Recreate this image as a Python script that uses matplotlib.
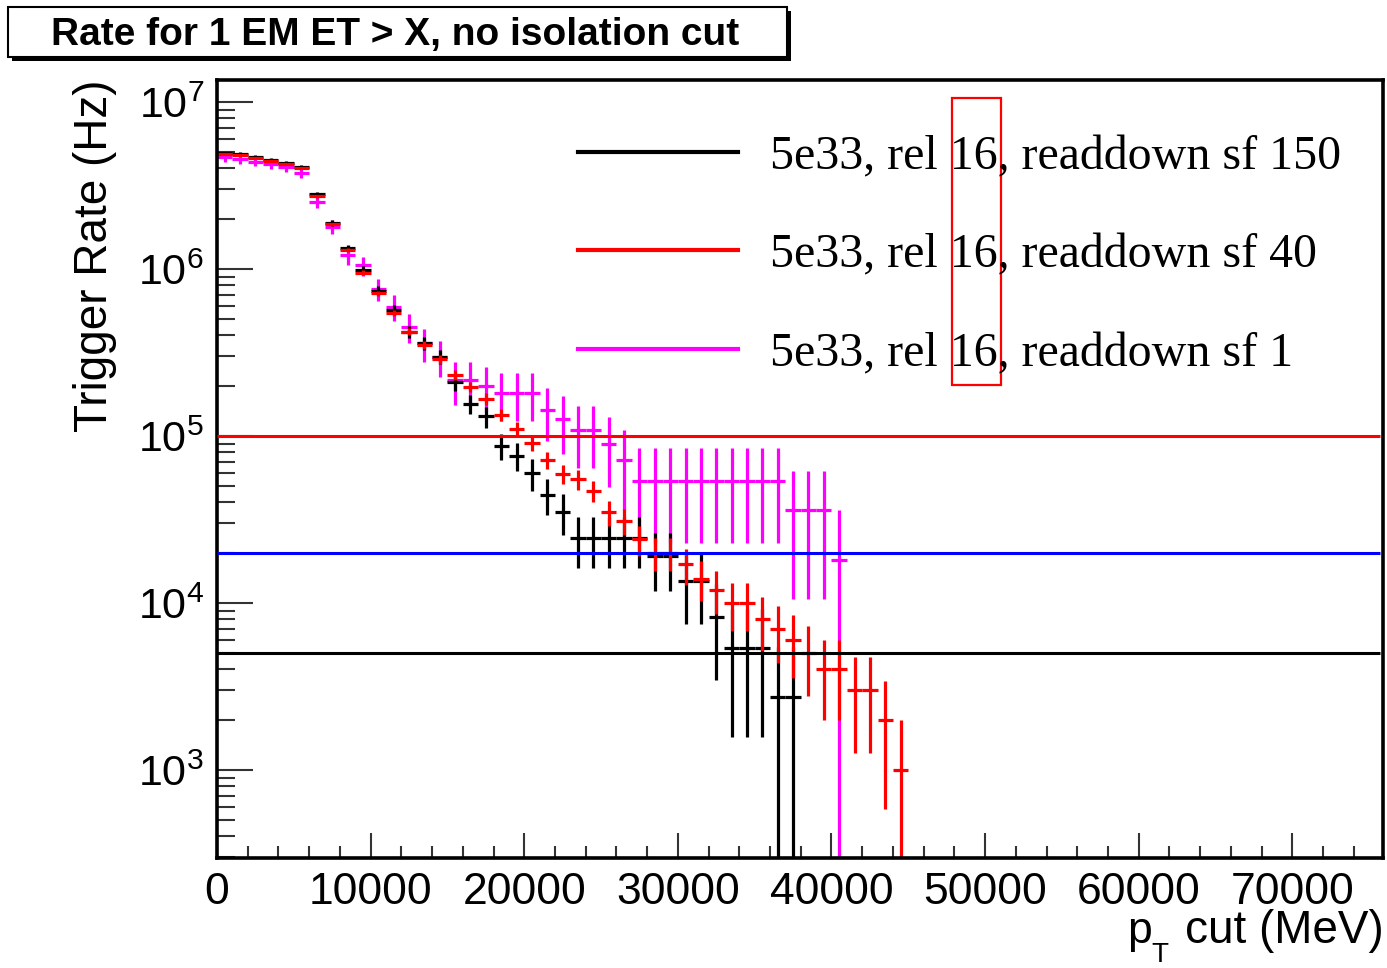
import numpy as np
import matplotlib
matplotlib.use("Agg")
import matplotlib.pyplot as plt
import matplotlib.transforms as mtransforms
from matplotlib.ticker import MultipleLocator, LogLocator, NullFormatter, FuncFormatter
from matplotlib.patches import Rectangle
from matplotlib.lines import Line2D

# ---------------- data ----------------
bin_width = 1000.0  # MeV
black_rate = [4.93e6, 4.89e6, 4.70e6, 4.50e6, 4.30e6, 4.06e6, 2.80e6, 1.89e6, 1.34e6, 9.87e5,
              7.41e5, 5.68e5, 4.22e5, 3.59e5, 2.98e5, 2.11e5, 1.56e5, 1.31e5, 8.7e4, 7.6e4,
              5.98e4, 4.44e4, 3.52e4, 2.44e4, 2.44e4, 2.44e4, 2.44e4, 2.44e4, 1.9e4, 1.9e4,
              1.36e4, 1.36e4, 8.2e3, 5.4e3, 5.4e3, 5.4e3, 2.72e3, 2.72e3]
red_rate = [4.89e6, 4.82e6, 4.64e6, 4.43e6, 4.24e6, 4.01e6, 2.73e6, 1.85e6, 1.30e6, 9.5e5,
            7.15e5, 5.43e5, 4.22e5, 3.51e5, 2.88e5, 2.32e5, 1.97e5, 1.67e5, 1.34e5, 1.10e5,
            9.1e4, 7.2e4, 5.9e4, 5.5e4, 4.7e4, 3.5e4, 3.1e4, 2.4e4, 2.0e4, 2.0e4,
            1.7e4, 1.4e4, 1.2e4, 1.0e4, 1.0e4, 8.0e3, 7.0e3, 6.0e3, 5.0e3, 4.0e3,
            4.0e3, 3.0e3, 3.0e3, 2.0e3, 1.0e3]
magenta_rate = [4.67e6, 4.54e6, 4.39e6, 4.24e6, 4.06e6, 3.78e6, 2.53e6, 1.79e6, 1.21e6, 1.05e6,
                7.56e5, 5.94e5, 4.48e5, 3.59e5, 2.98e5, 2.16e5, 2.16e5, 1.98e5, 1.8e5, 1.8e5,
                1.8e5, 1.44e5, 1.26e5, 1.08e5, 1.08e5, 9.0e4, 7.2e4, 5.4e4, 5.4e4, 5.4e4,
                5.4e4, 5.4e4, 5.4e4, 5.4e4, 5.4e4, 5.4e4, 5.4e4, 3.6e4, 3.6e4, 3.6e4,
                1.8e4]
# rate carried by one event in each sample (sets the Poisson error bars)
black_event_weight = 2.72e3
red_event_weight = 1.0e3
magenta_event_weight = 1.8e4

series_labels = ["5e33, rel 16, readdown sf 150",
                 "5e33, rel 16, readdown sf 40",
                 "5e33, rel 16, readdown sf 1"]
series_colors = ["black", "red", "magenta"]

threshold_rates = [1e5, 2e4, 5e3]
threshold_colors = ["red", "blue", "black"]

title_text = "Rate for 1 EM ET > X, no isolation cut"
ylabel_text = "Trigger Rate (Hz)"
x_ticks = [0, 10000, 20000, 30000, 40000, 50000, 60000, 70000]
y_exponents = [3, 4, 5, 6, 7]

# ---------------- figure ----------------
W, H = 1387, 968
plt.rcParams["font.family"] = ["Liberation Sans", "DejaVu Sans"]
fig = plt.figure(figsize=(W / 100, H / 100), dpi=100)
fig.patch.set_facecolor("white")


def fx(px):
    return px / W


def fy(py):
    return 1 - py / H


ax = fig.add_axes([fx(217), fy(858), fx(1383) - fx(217), fy(80) - fy(858)])
ax.set_yscale("log", nonpositive="clip")
ax.set_xlim(0, 75900)
ax.set_ylim(297, 1.354e7)

series = [(magenta_rate, magenta_event_weight, "magenta"),
          (black_rate, black_event_weight, "black"),
          (red_rate, red_event_weight, "red")]
for rates, w, col in series:
    r = np.array(rates)
    x = (np.arange(len(r)) + 0.5) * bin_width
    err = np.sqrt(r * w)
    lower = np.minimum(err, r * (1 - 1e-12))
    ax.errorbar(x, r, xerr=bin_width / 2, yerr=[lower, err], fmt="none",
                ecolor=col, elinewidth=2.3, capsize=0, zorder=2)

ax.hlines(threshold_rates, 0, 75700, colors=threshold_colors, linewidth=2.2, zorder=3)

# axes styling (ROOT look)
for sp in ax.spines.values():
    sp.set_linewidth(2.6)
ax.xaxis.set_major_locator(MultipleLocator(10000))
ax.xaxis.set_minor_locator(MultipleLocator(2000))
ax.set_xticks(x_ticks)
ax.xaxis.set_major_formatter(FuncFormatter(lambda v, p: "%d" % v))
ax.yaxis.set_major_locator(LogLocator(base=10))
ax.yaxis.set_minor_locator(LogLocator(base=10, subs=np.arange(2, 10)))
ax.yaxis.set_major_formatter(NullFormatter())
ax.yaxis.set_minor_formatter(NullFormatter())

ax.tick_params(axis="x", which="major", direction="in", length=18, width=1.5,
               top=False, labelsize=32, pad=10, color="#333333")
ax.tick_params(axis="x", which="minor", direction="in", length=9, width=1.5,
               top=False, color="#333333")
ax.tick_params(axis="y", which="major", direction="in", length=26, width=1.5,
               right=False, color="#333333")
ax.tick_params(axis="y", which="minor", direction="in", length=13, width=1.5,
               right=False, color="#333333")

# y tick labels 10^n
ytrans = mtransforms.blended_transform_factory(ax.transAxes, ax.transData)
ytrans = mtransforms.offset_copy(ytrans, fig=fig, x=-13, y=-5, units="dots")
for e in y_exponents:
    ax.text(0, 10.0 ** e, r"$\mathregular{10^{%d}}$" % e, transform=ytrans,
            ha="right", va="center", fontsize=31, clip_on=False)

# axis titles
fig.text(fx(95), fy(80), ylabel_text, rotation=90, ha="center", va="top", fontsize=33)
fig.text(fx(1127), fy(943), "p", ha="left", va="baseline", fontsize=32)
fig.text(fx(1151), fy(962), "T", ha="left", va="baseline", fontsize=20)
fig.text(fx(1384), fy(943), "cut (MeV)", ha="right", va="baseline", fontsize=33)

# title box with shadow
fig.add_artist(Rectangle((fx(12), fy(61)), fx(791) - fx(12), fy(11) - fy(61),
                         transform=fig.transFigure, facecolor="black", edgecolor="black",
                         lw=0, zorder=5))
fig.add_artist(Rectangle((fx(8), fy(57)), fx(787) - fx(8), fy(7) - fy(57),
                         transform=fig.transFigure, facecolor="white", edgecolor="black",
                         lw=1.5, zorder=6))
fig.text(fx(395), fy(45), title_text, ha="center", va="baseline", fontsize=28,
         fontweight="bold", zorder=7)

# legend (no frame)
legend_rows_y = [152, 250, 349]
for lab, col, py in zip(series_labels, series_colors, legend_rows_y):
    fig.add_artist(Line2D([fx(578), fx(738)], [fy(py), fy(py)], color=col, lw=3.0,
                          transform=fig.transFigure))
    fig.text(fx(770), fy(py + 17), lab, ha="left", va="baseline", fontsize=34.5,
             family=["Liberation Serif", "DejaVu Serif"])

# red highlight box around "16"
fig.add_artist(Rectangle((fx(952), fy(385)), fx(1001) - fx(952), fy(98) - fy(385),
                         transform=fig.transFigure, fill=False, edgecolor="red", lw=1.6))

fig.savefig("out.png", dpi=100, facecolor="white")
